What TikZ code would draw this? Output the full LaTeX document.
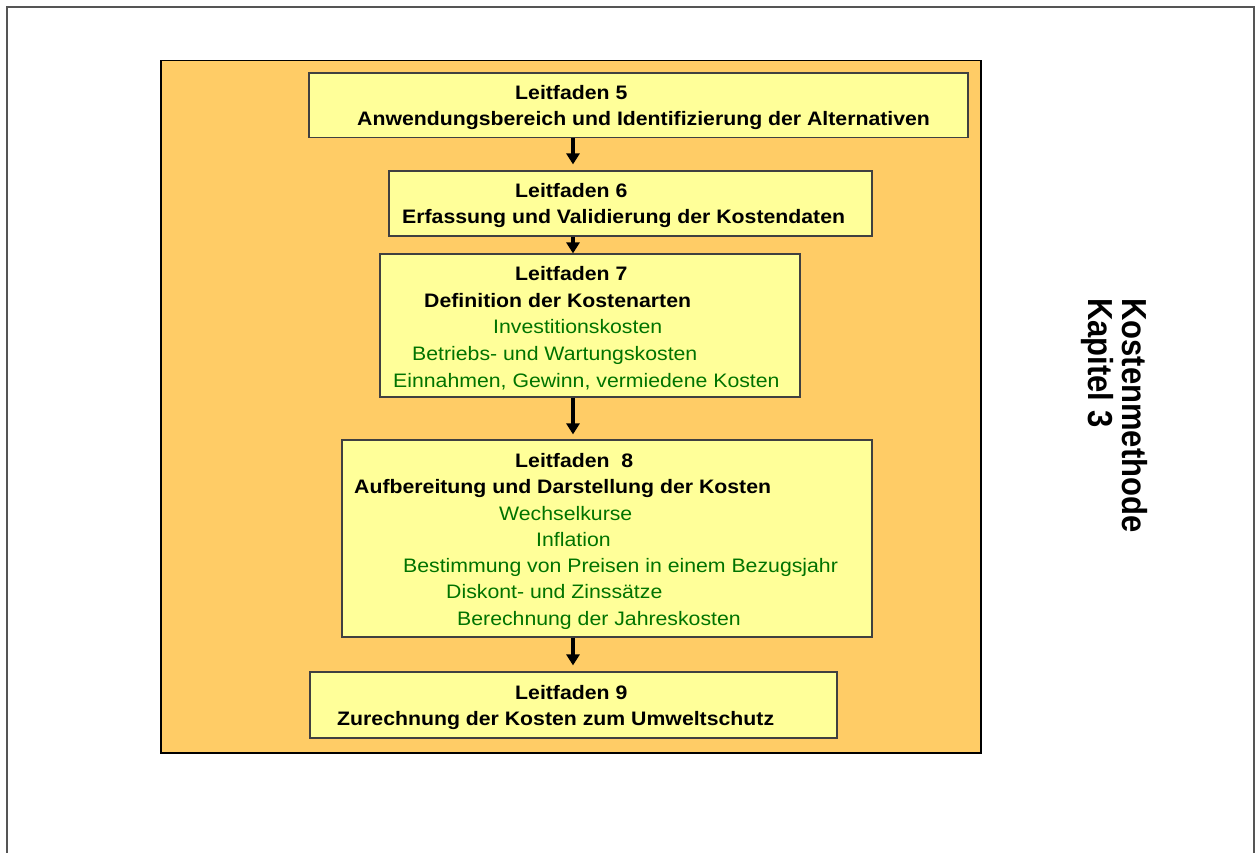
\documentclass[tikz,border=0pt]{standalone}
\usepackage{fontspec}
\setmainfont{Liberation Sans}[FakeStretch=1.09]
\newfontfamily\titlefont{Liberation Sans}
\usepackage{tikz}
\definecolor{panelorange}{RGB}{255,204,102}
\definecolor{boxyellow}{RGB}{255,255,153}
\definecolor{itemgreen}{RGB}{0,115,0}
\definecolor{framegray}{RGB}{85,85,85}
\usetikzlibrary{arrows.meta, positioning}
\tikzset{
  panel/.style={rectangle, draw=black, fill=panelorange, line width=1.2pt, inner sep=0pt},
  leitbox/.style={rectangle, draw=black!75, fill=boxyellow, line width=1.2pt, inner sep=0pt},
  headline/.style={anchor=base west, inner sep=0pt, font=\fontsize{19.5}{26}\selectfont\bfseries},
  itemline/.style={anchor=base west, inner sep=0pt, text=itemgreen, font=\fontsize{19.5}{26}\selectfont},
  sidetitle/.style={anchor=base west, inner sep=0pt, rotate=-90, yscale=1.12, font=\titlefont\fontsize{31}{34}\selectfont\bfseries},
  arrow/.style={line width=3.2pt, -{Triangle[length=11pt, width=13pt]}}
}

\begin{document}
\begin{tikzpicture}[x=1pt, y=-1pt]
  \useasboundingbox (0,0) rectangle (1256,852);

  % Page frame
  \draw [framegray, line width=1.5pt] (7,7) rectangle (1254,880);

  % Background panel
  \node (panel) [panel, minimum width=820pt, minimum height=692.5pt] at (571,406.75) {};

  % Boxes
  \node (b5) [leitbox, minimum width=659pt, minimum height=64.5pt] at (638.5,105.25) {};
  \node (b6) [leitbox, minimum width=483pt, minimum height=65pt] at (630.5,203.5) {};
  \node (b7) [leitbox, minimum width=420pt, minimum height=143pt] at (590,325.5) {};
  \node (b8) [leitbox, minimum width=530pt, minimum height=197pt] at (607,538.5) {};
  \node (b9) [leitbox, minimum width=527pt, minimum height=66pt] at (573.5,705) {};

  % Texts of Leitfaden 5 and 6
  \node (t5a) [headline] at (515,99) {Leitfaden 5};
  \node (t5b) [headline] at (357,125) {Anwendungsbereich und Identifizierung der Alternativen};
  \node (t6a) [headline] at (515,197) {Leitfaden 6};
  \node (t6b) [headline] at (402,223) {Erfassung und Validierung der Kostendaten};

  % Texts of Leitfaden 7
  \node (t7a) [headline] at (515,280) {Leitfaden 7};
  \node (t7b) [headline] at (424,307) {Definition der Kostenarten};
  \node (t7c) [itemline] at (493,333) {Investitionskosten};
  \node (t7d) [itemline] at (412,360) {Betriebs- und Wartungskosten};
  \node (t7e) [itemline] at (393,387) {Einnahmen, Gewinn, vermiedene Kosten};

  % Texts of Leitfaden 8
  \node (t8a) [headline] at (515,467) {Leitfaden~~8};
  \node (t8b) [headline] at (354,493) {Aufbereitung und Darstellung der Kosten};
  \node (t8c) [itemline] at (499,520) {Wechselkurse};
  \node (t8d) [itemline] at (536,546) {Inflation};
  \node (t8e) [itemline] at (403,572) {Bestimmung von Preisen in einem Bezugsjahr};
  \node (t8f) [itemline] at (446,598) {Diskont- und Zinssätze};
  \node (t8g) [itemline] at (457,625) {Berechnung der Jahreskosten};

  % Texts of Leitfaden 9
  \node (t9a) [headline] at (515,699) {Leitfaden 9};
  \node (t9b) [headline] at (337,725) {Zurechnung der Kosten zum Umweltschutz};

  % Side title
  \node (ttl1) [sidetitle] at (1122,298) {Kostenmethode};
  \node (ttl2) [sidetitle] at (1088,298) {Kapitel 3};

  % Connections
  \coordinate (axis) at (573,0);
  \draw [arrow, shorten >=6pt] (b5.south -| axis) -- (b6.north -| axis);
  \draw [arrow] (b6.south -| axis) -- (b7.north -| axis);
  \draw [arrow, shorten >=5pt] (b7.south -| axis) -- (b8.north -| axis);
  \draw [arrow, shorten >=6pt] (b8.south -| axis) -- (b9.north -| axis);
\end{tikzpicture}
\end{document}
